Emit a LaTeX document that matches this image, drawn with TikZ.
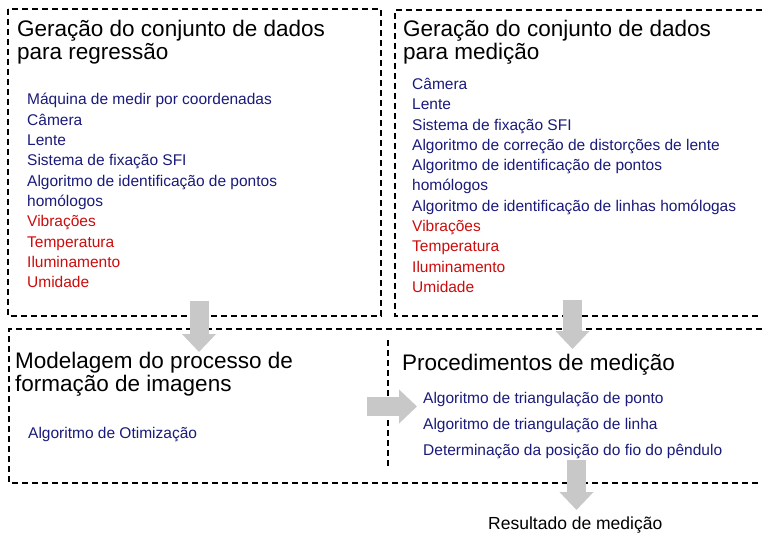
\documentclass[tikz,border=0pt]{standalone}
\usepackage{fontspec}
\setmainfont{Liberation Sans}
\usetikzlibrary{arrows.meta}

\definecolor{itemblue}{RGB}{26,26,122}
\definecolor{itemred}{RGB}{204,12,12}
\definecolor{arrowgray}{RGB}{200,200,200}

\begin{document}
\begin{tikzpicture}[
  x=1pt,y=-1pt,
  titlenode/.style={anchor=base west,inner sep=0pt,font=\fontsize{22.5}{27}\selectfont},
  itemnode/.style={anchor=base west,inner sep=0pt,font=\fontsize{15.5}{19}\selectfont},
  boxline/.style={draw=black,line width=1.1pt,dash pattern=on 6pt off 4pt},
  flowarrow/.style={draw=arrowgray,line width=19pt,-{Triangle[length=18pt,width=33pt]}}
]
\useasboundingbox (0,0) rectangle (762,534);

% dashed frames
\draw[boxline] (8,9) rectangle (381,316);
\draw[boxline] (762,10) -- (395,10) -- (395,316) -- (762,316);
\draw[boxline] (762,329) -- (9,329) -- (9,483) -- (762,483);
\draw[boxline] (388,340) -- (388,467);

% regression data set
\node[titlenode] (regtitle) at (17,36.7) {Geração do conjunto de dados};
\node[titlenode] (regtitleb) at (17,60) {para regressão};
\foreach \txt/\col [count=\i from 0] in {
  Máquina de medir por coordenadas/itemblue,
  Câmera/itemblue,
  Lente/itemblue,
  Sistema de fixação SFI/itemblue,
  Algoritmo de identificação de pontos/itemblue,
  homólogos/itemblue,
  Vibrações/itemred,
  Temperatura/itemred,
  Iluminamento/itemred,
  Umidade/itemred}
  \node[itemnode,text=\col] (regitem\i) at (27,105+20.3*\i) {\txt};

% measurement data set
\node[titlenode] (medtitle) at (403,36.7) {Geração do conjunto de dados};
\node[titlenode] (medtitleb) at (403,60) {para medição};
\foreach \txt/\col [count=\i from 0] in {
  Câmera/itemblue,
  Lente/itemblue,
  Sistema de fixação SFI/itemblue,
  Algoritmo de correção de distorções de lente/itemblue,
  Algoritmo de identificação de pontos/itemblue,
  homólogos/itemblue,
  Algoritmo de identificação de linhas homólogas/itemblue,
  Vibrações/itemred,
  Temperatura/itemred,
  Iluminamento/itemred,
  Umidade/itemred}
  \node[itemnode,text=\col] (meditem\i) at (412,89.5+20.3*\i) {\txt};

% image formation model
\node[titlenode] (modtitle) at (15,368.3) {Modelagem do processo de};
\node[titlenode] (modtitleb) at (15,391) {formação de imagens};
\node[itemnode,text=itemblue] (moditem) at (28,438.3) {Algoritmo de Otimização};

% measurement procedures
\node[titlenode] (proctitle) at (402,370) {Procedimentos de medição};
\foreach \txt [count=\i from 0] in {
  Algoritmo de triangulação de ponto,
  Algoritmo de triangulação de linha,
  Determinação da posição do fio do pêndulo}
  \node[itemnode,text=itemblue] (procitem\i) at (423,403.3+26.2*\i) {\txt};

\node[anchor=base west,inner sep=0pt,font=\fontsize{17.5}{21}\selectfont]
  (result) at (488,529.3) {Resultado de medição};

% flow arrows
\coordinate (regout) at (199,301);
\coordinate (modin) at (199,352);
\coordinate (medout) at (572.5,300);
\coordinate (procin) at (572.5,349);
\coordinate (modout) at (367,406.5);
\coordinate (procside) at (417,406.5);
\coordinate (procout) at (576.5,460);
\coordinate (resin) at (576.5,510);

\draw[flowarrow] (regout) -- (modin);
\draw[flowarrow] (medout) -- (procin);
\draw[flowarrow] (modout) -- (procside);
\draw[flowarrow] (procout) -- (resin);

\end{tikzpicture}
\end{document}
